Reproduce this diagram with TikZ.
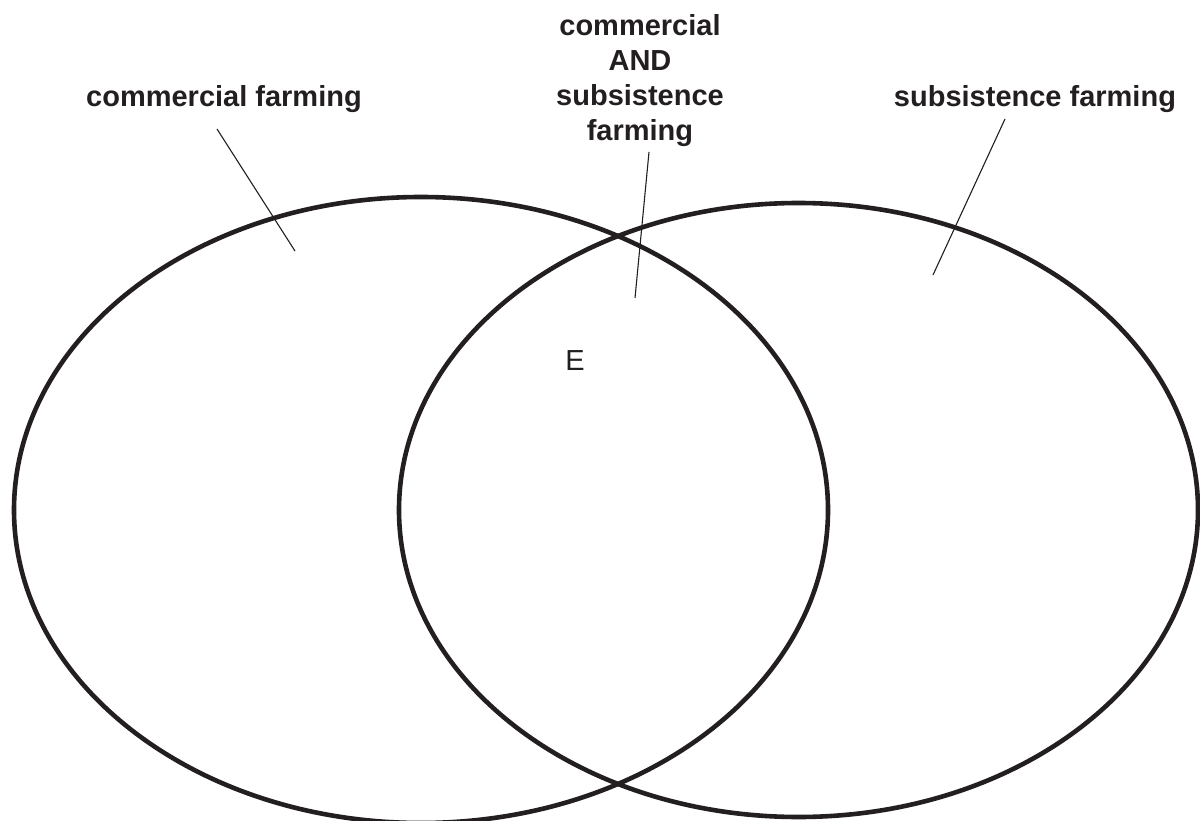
\documentclass[tikz,border=0pt]{standalone}
\usepackage{fontspec}
\setmainfont{Liberation Sans}
\usepackage{tikz}
\definecolor{ink}{RGB}{35,31,32}

\begin{document}
\begin{tikzpicture}[x=1pt,y=-1pt,
    setline/.style={line width=4.6pt,draw=ink},
    leader/.style={line width=1.1pt,draw=ink},
    heading/.style={font=\fontsize{29}{35}\selectfont\bfseries,text=ink,inner sep=0pt}]
  \useasboundingbox (0,0) rectangle (1200,821);
  \draw[setline] (421,510) ellipse [x radius=407, y radius=313];      % commercial
  \draw[setline] (798.5,510) ellipse [x radius=399.5, y radius=307];  % subsistence
  \node[heading,anchor=base] (comm) at (224,107) {commercial farming};
  \node[heading,anchor=base] (subs) at (1035,107) {subsistence farming};
  \node[heading,anchor=north,align=center] (both) at (640,14) {commercial\\AND\\subsistence\\farming};
  \node[font=\fontsize{29}{35}\selectfont,text=ink,inner sep=0pt] (e) at (575,361) {E};
  % leader lines
  \coordinate (commTop) at (217,129);  \coordinate (commEnd) at (295,251);
  \coordinate (bothTop) at (649,152);  \coordinate (bothEnd) at (635,298);
  \coordinate (subsTop) at (1005,119); \coordinate (subsEnd) at (933,275);
  \draw[leader] (commTop) -- (commEnd);
  \draw[leader] (bothTop) -- (bothEnd);
  \draw[leader] (subsTop) -- (subsEnd);
\end{tikzpicture}
\end{document}
